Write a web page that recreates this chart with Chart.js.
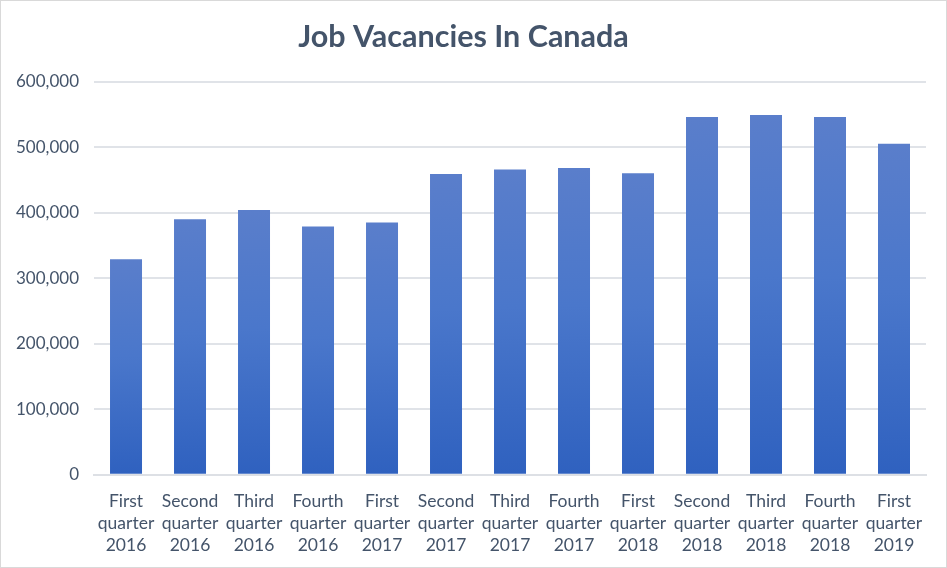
<!DOCTYPE html>
<html>
<head>
<meta charset="utf-8">
<script src="https://cdn.jsdelivr.net/npm/chart.js@4.4.0/dist/chart.umd.min.js"></script>
<style>
  html, body { margin: 0; padding: 0; background: #fff; }
  #wrap { width: 947px; height: 568px; box-sizing: border-box; border: 1px solid #d9d9d9; }
  canvas { display: block; }
</style>
</head>
<body>
<div id="wrap"><canvas id="jobChart" width="945" height="566"></canvas></div>
<script>
const quarters = [
  ['First', 'quarter', '2016'],
  ['Second', 'quarter', '2016'],
  ['Third', 'quarter', '2016'],
  ['Fourth', 'quarter', '2016'],
  ['First', 'quarter', '2017'],
  ['Second', 'quarter', '2017'],
  ['Third', 'quarter', '2017'],
  ['Fourth', 'quarter', '2017'],
  ['First', 'quarter', '2018'],
  ['Second', 'quarter', '2018'],
  ['Third', 'quarter', '2018'],
  ['Fourth', 'quarter', '2018'],
  ['First', 'quarter', '2019']
];
const vacancies = [329000, 390000, 404000, 379000, 385000, 459000, 466000, 468000, 460000, 546000, 549000, 546000, 505000];
const yTicks = [0, 100000, 200000, 300000, 400000, 500000, 600000];

const textColor = '#44546a';
const labelFont = 'Lato, "Open Sans", sans-serif';

// each bar shades from light at its top to darker at the axis
function barGradient(ctx) {
  const chart = ctx.chart;
  if (!chart.chartArea || ctx.type !== 'data') return '#4775cb';
  const y = chart.scales.y;
  const top = y.getPixelForValue(vacancies[ctx.dataIndex]);
  const bottom = y.getPixelForValue(0);
  const g = chart.ctx.createLinearGradient(0, top, 0, bottom);
  g.addColorStop(0, '#5a7ecb');
  g.addColorStop(0.45, '#4a77cb');
  g.addColorStop(1, '#2f61bf');
  return g;
}

new Chart(document.getElementById('jobChart'), {
  type: 'bar',
  data: {
    labels: quarters,
    datasets: [{
      label: 'Job vacancies',
      data: vacancies,
      backgroundColor: barGradient,
      barPercentage: 0.5,
      categoryPercentage: 1
    }]
  },
  options: {
    responsive: false,
    animation: false,
    layout: { padding: { left: 0, right: 20, top: 0, bottom: 3 } },
    plugins: {
      legend: { display: false },
      tooltip: { enabled: false },
      title: {
        display: true,
        text: 'Job Vacancies In Canada',
        color: textColor,
        font: { family: labelFont, size: 30.5, weight: 'bold' },
        padding: { top: 18, bottom: 26 }
      }
    },
    scales: {
      x: {
        grid: { display: false },
        border: { color: '#dde0e5', width: 2 },
        ticks: {
          color: textColor,
          font: { family: labelFont, size: 17.5, lineHeight: 1.28 },
          maxRotation: 0,
          autoSkip: false,
          padding: 7
        }
      },
      y: {
        min: 0,
        max: 600000,
        afterBuildTicks: axis => { axis.ticks = yTicks.map(v => ({ value: v })); },
        grid: { color: '#e0e3e8', lineWidth: 2, drawTicks: false },
        border: { display: false },
        ticks: {
          color: textColor,
          font: { family: labelFont, size: 17 },
          padding: 15,
          callback: v => v.toLocaleString('en-US')
        }
      }
    }
  }
});
</script>
</body>
</html>
